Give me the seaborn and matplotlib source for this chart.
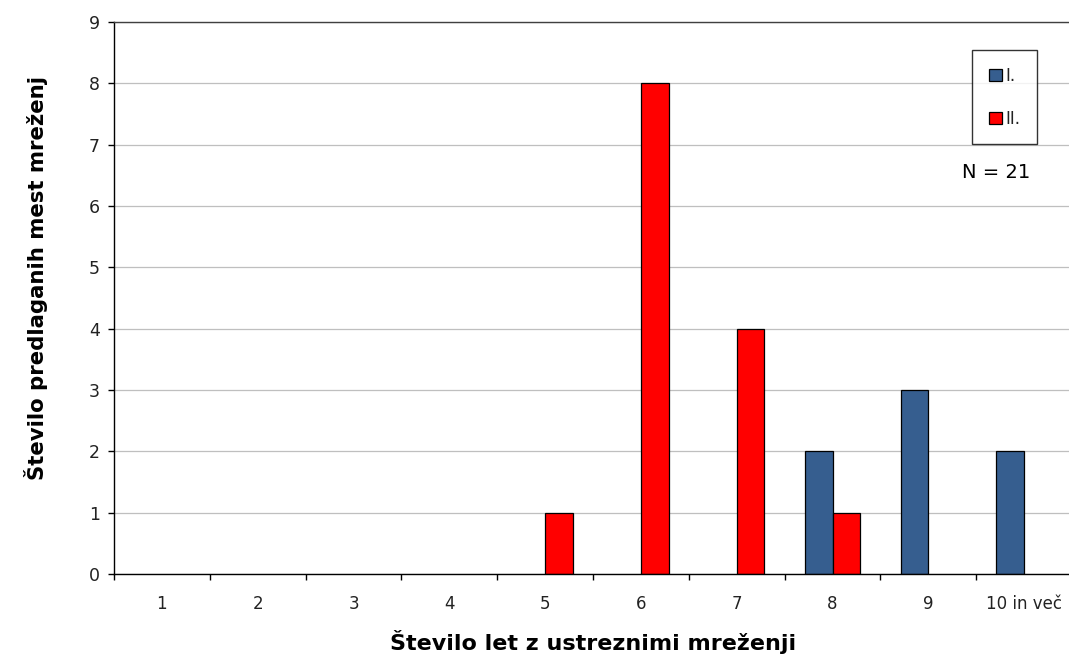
import matplotlib
matplotlib.use("Agg")
import matplotlib.pyplot as plt
import seaborn as sns
import pandas as pd
import numpy as np

categories = ["1", "2", "3", "4", "5", "6", "7", "8", "9", "10 in več"]
series_names = ["I.", "II."]
values_I = [0, 0, 0, 0, 0, 0, 0, 2, 3, 2]
values_II = [0, 0, 0, 0, 1, 8, 4, 1, 0, 0]
colors = ["#365E8F", "#FF0000"]

df = pd.DataFrame({
    "kat": categories * 2,
    "serija": [series_names[0]] * len(categories) + [series_names[1]] * len(categories),
    "vrednost": values_I + values_II,
})

sns.set_style("white")
plt.rcParams["font.family"] = ["DejaVu Sans"]

fig = plt.figure(figsize=(10.69, 6.55), dpi=100)
ax = fig.add_axes([114 / 1069, 81 / 655, 958 / 1069, 552 / 655])

sns.barplot(data=df, x="kat", y="vrednost", hue="serija", order=categories,
            hue_order=series_names, palette=colors, width=0.58,
            edgecolor="black", linewidth=0.9, ax=ax, saturation=1)

for cont in ax.containers:
    for bar in cont:
        if abs(bar.get_height()) < 1e-9:
            bar.set_visible(False)

ax.set_ylim(0, 9)
ax.set_xlim(-0.5, len(categories) - 0.5)
ax.set_yticks(range(0, 10))
ax.yaxis.grid(True, color="#BFBFBF", linewidth=0.9)
ax.set_axisbelow(True)

ax.spines["right"].set_visible(False)
ax.spines["top"].set_visible(True)
ax.spines["top"].set_color("#404040")
ax.spines["top"].set_linewidth(1.0)
for s in ["left", "bottom"]:
    ax.spines[s].set_color("black")
    ax.spines[s].set_linewidth(1.0)

ax.set_xticks(range(len(categories)))
ax.set_xticklabels(categories)
ax.set_xticks(np.arange(-0.5, len(categories), 1.0), minor=True)
ax.tick_params(axis="x", which="major", bottom=True, length=0, pad=15, labelsize=12,
               labelcolor="#222222")
ax.tick_params(axis="x", which="minor", bottom=True, length=4.5, width=1, color="black",
               direction="out")
ax.tick_params(axis="y", which="major", left=True, length=4.5, width=1, color="black",
               direction="out", labelsize=12.5, labelcolor="#222222", pad=5.5)

ax.set_xlabel("Število let z ustreznimi mreženji", fontsize=16, fontweight="bold",
              labelpad=12, color="black")
ax.set_ylabel("Število predlaganih mest mreženj", fontsize=15.3, fontweight="bold",
              color="black")
ax.yaxis.set_label_coords(-0.069, 0.537)

handles = [matplotlib.patches.Patch(facecolor=c, edgecolor="black", linewidth=0.9)
           for c in colors]
leg = ax.legend(handles, series_names, loc="upper right",
                bbox_to_anchor=((1037 - 114) / 958, (574 - 50) / 552),
                borderaxespad=0, frameon=True, fancybox=False, handlelength=0.8,
                handleheight=0.8, handletextpad=0.2, labelspacing=1.5, borderpad=1.0,
                fontsize=12, title=None)
leg.get_frame().set_edgecolor("black")
leg.get_frame().set_linewidth(1.0)
for t in leg.get_texts():
    t.set_color("#222222")

ax.text((996 - 114) / 958, (574 - 172) / 552, "N = 21", transform=ax.transAxes,
        ha="center", va="center", fontsize=14, color="black")

fig.savefig("out.png", dpi=100)
